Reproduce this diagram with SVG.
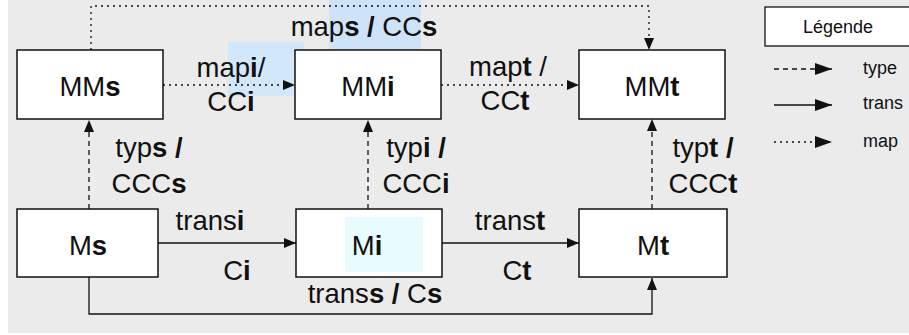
<svg xmlns="http://www.w3.org/2000/svg" width="909" height="335" viewBox="0 0 909 335">
<style>
.t{font-family:"Liberation Sans",Arial,Helvetica,sans-serif;font-size:27.5px;fill:#111;}
.lg{font-family:"Liberation Sans",Arial,Helvetica,sans-serif;font-size:18px;fill:#111;}
.b{font-weight:bold;}
.box{fill:#fff;stroke:#111;stroke-width:1.5;}
.c{fill:none;stroke:#111;stroke-width:1.3;}
.dash{stroke-dasharray:5 4;}
.dot{stroke-dasharray:2 4;}
</style>
<defs>
<marker id="ah" viewBox="0 0 12 10" refX="12" refY="5" markerWidth="12" markerHeight="10" markerUnits="userSpaceOnUse" orient="auto">
<path d="M0,0 L12,5 L0,10 Z" fill="#111"/>
</marker>
<marker id="ahl" viewBox="0 0 17 12" refX="17" refY="6" markerWidth="17" markerHeight="12" markerUnits="userSpaceOnUse" orient="auto">
<path d="M0,0 L17,6 L0,12 Z" fill="#111"/>
</marker>
</defs>
<rect x="8" y="0" width="901" height="333" fill="#ebebeb"/>
<rect x="329" y="0" width="92" height="52" fill="#cfe3f8"/>
<rect x="228" y="42" width="76" height="54" fill="#d3e7fb"/>
<g id="legend">
<rect x="765" y="7" width="150" height="39" fill="#fff" stroke="#111" stroke-width="1.3"/>
<text class="lg" x="838" y="33" text-anchor="middle">Légende</text>
<line class="c dash" x1="774" y1="69" x2="832" y2="69" marker-end="url(#ahl)"/>
<text class="lg" x="863" y="74">type</text>
<line class="c" x1="774" y1="105" x2="832" y2="105" marker-end="url(#ahl)"/>
<text class="lg" x="863" y="109">trans</text>
<line class="c dot" x1="774" y1="142" x2="832" y2="142" marker-end="url(#ahl)"/>
<text class="lg" x="863" y="147">map</text>
</g>
<g id="connectors">
<polyline class="c dot" points="91,50 91,6 649,6 649,50" marker-end="url(#ah)"/>
<line class="c dot" x1="163" y1="85" x2="295" y2="85" marker-end="url(#ah)"/>
<line class="c dot" x1="441" y1="85" x2="579" y2="85" marker-end="url(#ah)"/>
<line class="c dash" x1="89" y1="209" x2="89" y2="120" marker-end="url(#ah)"/>
<line class="c dash" x1="368" y1="209" x2="368" y2="120" marker-end="url(#ah)"/>
<line class="c dash" x1="652" y1="209" x2="652" y2="119" marker-end="url(#ah)"/>
<line class="c" x1="158" y1="243" x2="296" y2="243" marker-end="url(#ah)"/>
<line class="c" x1="442" y1="243" x2="579" y2="243" marker-end="url(#ah)"/>
<polyline class="c" points="89,277 89,314 652,314 652,278" marker-end="url(#ah)"/>
<text class="t" x="364" y="36" text-anchor="middle">map<tspan class="b">s /</tspan> CC<tspan class="b">s</tspan></text>
<text class="t" x="231" y="77" text-anchor="middle">map<tspan class="b">i</tspan>/</text>
<text class="t" x="231" y="111" text-anchor="middle">CC<tspan class="b">i</tspan></text>
<text class="t" x="508" y="76" text-anchor="middle">map<tspan class="b">t</tspan> /</text>
<text class="t" x="505" y="110" text-anchor="middle">CC<tspan class="b">t</tspan></text>
<text class="t" x="149" y="157" text-anchor="middle">typ<tspan class="b">s /</tspan></text>
<text class="t" x="149" y="193" text-anchor="middle">CCC<tspan class="b">s</tspan></text>
<text class="t" x="416" y="157" text-anchor="middle">typ<tspan class="b">i /</tspan></text>
<text class="t" x="416" y="193" text-anchor="middle">CCC<tspan class="b">i</tspan></text>
<text class="t" x="703" y="157" text-anchor="middle">typ<tspan class="b">t /</tspan></text>
<text class="t" x="703" y="193" text-anchor="middle">CCC<tspan class="b">t</tspan></text>
<text class="t" x="210" y="230" text-anchor="middle">trans<tspan class="b">i</tspan></text>
<text class="t" x="237" y="280" text-anchor="middle">C<tspan class="b">i</tspan></text>
<text class="t" x="510" y="230" text-anchor="middle">trans<tspan class="b">t</tspan></text>
<text class="t" x="517" y="280" text-anchor="middle">C<tspan class="b">t</tspan></text>
<text class="t" x="375" y="303" text-anchor="middle">trans<tspan class="b">s / </tspan>C<tspan class="b">s</tspan></text>
</g>
<g id="MMs"><rect class="box" x="17" y="50" width="146" height="69"/><text class="t" x="90" y="96" text-anchor="middle">MM<tspan class="b">s</tspan></text></g>
<g id="MMi"><rect class="box" x="295" y="50" width="146" height="69"/><text class="t" x="368" y="96" text-anchor="middle">MM<tspan class="b">i</tspan></text></g>
<g id="MMt"><rect class="box" x="579" y="50" width="146" height="69"/><text class="t" x="652" y="96" text-anchor="middle">MM<tspan class="b">t</tspan></text></g>
<g id="Ms"><rect class="box" x="17" y="209" width="141" height="68"/><text class="t" x="88" y="255" text-anchor="middle">M<tspan class="b">s</tspan></text></g>
<g id="Mi"><rect class="box" x="296" y="209" width="146" height="68"/><rect x="345" y="217" width="78" height="55" fill="#e8fbfd"/><text class="t" x="367" y="255" text-anchor="middle">M<tspan class="b">i</tspan></text></g>
<g id="Mt"><rect class="box" x="579" y="209" width="148" height="68"/><text class="t" x="653" y="255" text-anchor="middle">M<tspan class="b">t</tspan></text></g>
</svg>
